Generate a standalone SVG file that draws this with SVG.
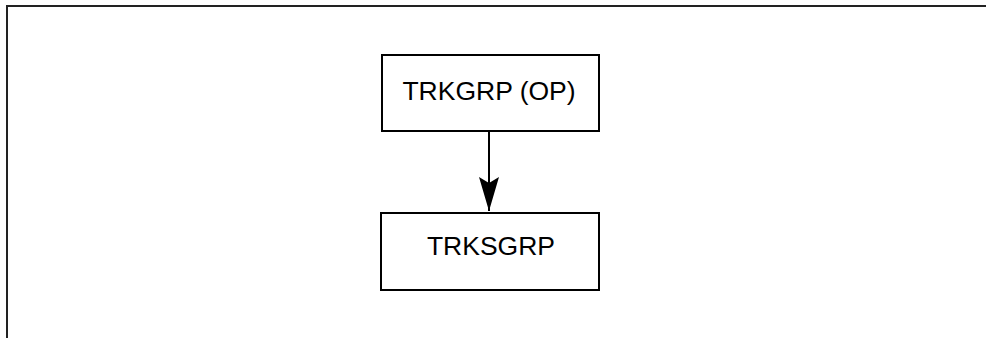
<svg xmlns="http://www.w3.org/2000/svg" width="986" height="338" viewBox="0 0 986 338">
<style>
.box{fill:#fff;stroke:#000;stroke-width:2}
.lbl{font-family:"Liberation Sans",Arial,sans-serif;font-size:26.5px;fill:#000;text-anchor:middle}
.frame{fill:none;stroke:#222;stroke-width:2}
</style>
<defs>
<marker id="arr" markerUnits="userSpaceOnUse" markerWidth="34" markerHeight="20" viewBox="0 0 34 20" refX="34" refY="10" orient="auto">
<path d="M0,0 L6,10 L0,20 L34,10 Z" fill="#000"/>
</marker>
</defs>
<rect width="986" height="338" fill="#fff"/>
<path class="frame" d="M7,338 V6 H986"/>
<g id="connectors">
<line x1="489" y1="131" x2="489" y2="211" stroke="#000" stroke-width="2" marker-end="url(#arr)"/>
</g>
<g id="node-trkgrp">
<rect class="box" x="382" y="55" width="217" height="76"/>
<text class="lbl" x="489" y="100">TRKGRP (OP)</text>
</g>
<g id="node-trksgrp">
<rect class="box" x="381" y="213" width="218" height="77"/>
<text class="lbl" x="491" y="255">TRKSGRP</text>
</g>
</svg>
